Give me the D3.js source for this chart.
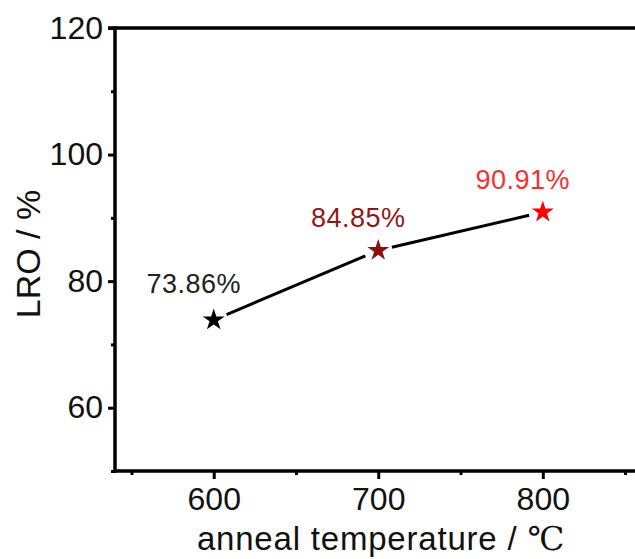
<!DOCTYPE html>
<html>
<head>
<meta charset="utf-8">
<script src="https://cdn.jsdelivr.net/npm/d3@7.9.0/dist/d3.min.js"></script>
<style>
  html, body { margin: 0; padding: 0; background: #fff; }
  svg { display: block; font-family: "Liberation Sans", Arial, sans-serif; }
</style>
</head>
<body>
<svg width="635" height="559"></svg>
<script>
const temps = [600, 700, 800];
const lro = [73.86, 84.85, 90.91];
const pointLabels = ['73.86%', '84.85%', '90.91%'];
const starColors = ['#000000', '#8b1010', '#ff0000'];
const labelColors = ['#222222', '#8b1a1a', '#f03232'];
const xMajor = [600, 700, 800];
const xMinor = [550, 650, 750, 850];
const yMajor = [60, 80, 100, 120];
const yMinor = [50, 70, 90, 110];

const svg = d3.select('svg');

let x = d3.scaleLinear().domain([540, 860]).range([115, 641.5]);
let y = d3.scaleLinear().domain([50, 120]).range([471, 28]);

const axisW = 3.5;

// minor ticks
svg.append('g').attr('transform', 'translate(115,0)')
  .call(d3.axisLeft(y).tickValues(yMinor).tickSize(4).tickFormat(''))
  .call(g => g.select('.domain').remove())
  .selectAll('line').attr('stroke-width', 3);
svg.append('g').attr('transform', 'translate(0,471)')
  .call(d3.axisBottom(x).tickValues(xMinor).tickSize(4).tickFormat(''))
  .call(g => g.select('.domain').remove())
  .selectAll('line').attr('stroke-width', 3);

// major y axis
let yAxis = svg.append('g').attr('transform', 'translate(115,0)')
  .call(d3.axisLeft(y).tickValues(yMajor).tickSize(7).tickPadding(5));
yAxis.select('.domain').remove();
yAxis.selectAll('line').attr('stroke-width', 3);
yAxis.selectAll('text').attr('font-size', 32).attr('fill', '#111')
  .attr('font-family', '"Liberation Sans", Arial, sans-serif');

// major x axis
let xAxis = svg.append('g').attr('transform', 'translate(0,471)')
  .call(d3.axisBottom(x).tickValues(xMajor).tickSize(8).tickPadding(8));
xAxis.select('.domain').remove();
xAxis.selectAll('line').attr('stroke-width', 3);
xAxis.selectAll('text').attr('font-size', 32).attr('fill', '#111')
  .attr('font-family', '"Liberation Sans", Arial, sans-serif');

// frame lines
svg.append('line')
  .attr('x1', x.range()[0]).attr('x2', x.range()[0])
  .attr('y1', y.range()[1] - axisW / 2).attr('y2', y.range()[0] + axisW / 2)
  .attr('stroke', '#000').attr('stroke-width', axisW);
svg.append('line')
  .attr('x1', x.range()[0] - axisW / 2).attr('x2', x.range()[1])
  .attr('y1', y.range()[0]).attr('y2', y.range()[0])
  .attr('stroke', '#000').attr('stroke-width', axisW);
svg.append('line')
  .attr('x1', x.range()[0] - 7).attr('x2', x.range()[1])
  .attr('y1', y.range()[1]).attr('y2', y.range()[1])
  .attr('stroke', '#000').attr('stroke-width', axisW);
svg.append('line')
  .attr('x1', x.range()[1]).attr('x2', x.range()[1])
  .attr('y1', y.range()[1]).attr('y2', y.range()[0])
  .attr('stroke', '#000').attr('stroke-width', axisW);

// connecting segments, with gaps around the markers
const gap = 14;
for (let i = 0; i < temps.length - 1; i++) {
  let x1 = x(temps[i]), y1 = y(lro[i]);
  let x2 = x(temps[i + 1]), y2 = y(lro[i + 1]);
  let len = Math.hypot(x2 - x1, y2 - y1);
  let ux = (x2 - x1) / len, uy = (y2 - y1) / len;
  svg.append('line')
    .attr('x1', x1 + ux * gap).attr('y1', y1 + uy * gap)
    .attr('x2', x2 - ux * gap).attr('y2', y2 - uy * gap)
    .attr('stroke', '#000').attr('stroke-width', 3);
}

// stars
let star = d3.symbol().type(d3.symbolStar).size(150);
svg.selectAll('path.star')
  .data(temps)
  .join('path')
  .attr('class', 'star')
  .attr('d', star)
  .attr('transform', (d, i) => `translate(${x(d)},${y(lro[i])})`)
  .attr('fill', (d, i) => starColors[i]);

// value labels
svg.selectAll('text.val')
  .data(pointLabels)
  .join('text')
  .attr('class', 'val')
  .attr('x', (d, i) => x(temps[i]) - 20)
  .attr('y', (d, i) => y(lro[i]) - (i === 0 ? 27 : 23))
  .attr('text-anchor', 'middle')
  .attr('font-size', 27)
  .attr('letter-spacing', 0.5)
  .attr('fill', (d, i) => labelColors[i])
  .text(d => d);

// axis titles
svg.append('text')
  .attr('x', 381).attr('y', 550)
  .attr('text-anchor', 'middle')
  .attr('font-size', 33)
  .attr('letter-spacing', 0.8)
  .attr('fill', '#111')
  .text('anneal temperature / ')
  .append('tspan')
  .attr('font-family', '"Liberation Serif", "DejaVu Serif", serif')
  .text('℃');

svg.append('text')
  .attr('transform', 'translate(40,254) rotate(-90)')
  .attr('text-anchor', 'middle')
  .attr('font-size', 34)
  .attr('fill', '#111')
  .text('LRO / %');
</script>
</body>
</html>
